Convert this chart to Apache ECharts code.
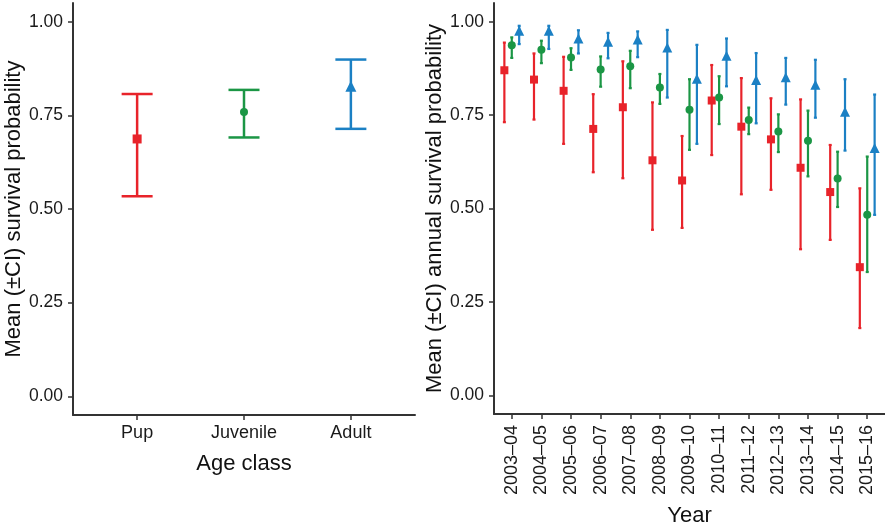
<!DOCTYPE html>
<html>
<head>
<meta charset="utf-8">
<script src="https://cdn.jsdelivr.net/npm/echarts@6/dist/echarts.min.js"></script>
<style>
  html, body { margin: 0; padding: 0; background: #fff; }
  #chart { width: 885px; height: 532px; }
</style>
</head>
<body>
<div id="chart"></div>
<script>
// age class panel
const ageClasses = ['Pup', 'Juvenile', 'Adult'];
const ageMean = [0.687, 0.759, 0.828];
const ageLower = [0.534, 0.691, 0.714];
const ageUpper = [0.807, 0.818, 0.899];

// yearly panel
const years = ['2003\u201304', '2004\u201305', '2005\u201306', '2006\u201307', '2007\u201308', '2008\u201309',
  '2009\u201310', '2010\u201311', '2011\u201312', '2012\u201313', '2013\u201314', '2014\u201315', '2015\u201316'];

const pupMean  = [0.870, 0.845, 0.815, 0.713, 0.771, 0.629, 0.575, 0.789, 0.719, 0.685, 0.609, 0.544, 0.343];
const pupLower = [0.731, 0.738, 0.673, 0.597, 0.581, 0.443, 0.448, 0.643, 0.538, 0.550, 0.391, 0.416, 0.180];
const pupUpper = [0.944, 0.915, 0.906, 0.806, 0.894, 0.784, 0.694, 0.884, 0.849, 0.795, 0.792, 0.670, 0.554];

const juvMean  = [0.937, 0.925, 0.904, 0.872, 0.881, 0.824, 0.764, 0.797, 0.737, 0.706, 0.681, 0.580, 0.483];
const juvLower = [0.903, 0.889, 0.871, 0.826, 0.822, 0.780, 0.657, 0.726, 0.699, 0.651, 0.586, 0.504, 0.330];
const juvUpper = [0.958, 0.949, 0.929, 0.907, 0.922, 0.860, 0.846, 0.854, 0.770, 0.752, 0.762, 0.652, 0.639];

const adultMean  = [0.976, 0.976, 0.955, 0.946, 0.952, 0.931, 0.847, 0.909, 0.844, 0.851, 0.831, 0.759, 0.662];
const adultLower = [0.940, 0.927, 0.915, 0.902, 0.905, 0.797, 0.673, 0.827, 0.728, 0.778, 0.743, 0.655, 0.483];
const adultUpper = [0.989, 0.989, 0.977, 0.970, 0.974, 0.978, 0.938, 0.955, 0.916, 0.903, 0.898, 0.846, 0.805];

const yTicks = [0, 0.25, 0.5, 0.75, 1];

const RED = '#E8232A', GREEN = '#1B9645', BLUE = '#1B80C4';
const FONT = '"Liberation Sans", Arial, Helvetica, sans-serif';
const AXIS_COL = '#333333';

function errorBars(xIdx, yIdx, xs, lo, hi, color, capW, lineW) {
  return {
    type: 'custom',
    xAxisIndex: xIdx, yAxisIndex: yIdx,
    data: xs.map((x, i) => [x, lo[i], hi[i]]),
    renderItem: function (params, api) {
      const top = api.coord([api.value(0), api.value(2)]);
      const bot = api.coord([api.value(0), api.value(1)]);
      const st = { stroke: color, lineWidth: lineW };
      return {
        type: 'group',
        children: [
          { type: 'line', shape: { x1: top[0], y1: top[1], x2: bot[0], y2: bot[1] }, style: st },
          { type: 'line', shape: { x1: top[0] - capW / 2, y1: top[1], x2: top[0] + capW / 2, y2: top[1] }, style: st },
          { type: 'line', shape: { x1: bot[0] - capW / 2, y1: bot[1], x2: bot[0] + capW / 2, y2: bot[1] }, style: st }
        ]
      };
    },
    z: 2
  };
}

function points(xIdx, yIdx, xs, ys, color, symbol, size) {
  return {
    type: 'scatter',
    xAxisIndex: xIdx, yAxisIndex: yIdx,
    data: xs.map((x, i) => [x, ys[i]]),
    symbol: symbol, symbolSize: size,
    itemStyle: { color: color, opacity: 1 },
    z: 3
  };
}

function xAxisFor(gridIdx, cats, name, nameGap, rotate, margin, labelSize) {
  const idx = cats.map((c, i) => i);
  return {
    type: 'value', gridIndex: gridIdx,
    min: -0.6, max: cats.length - 0.4,
    name: name, nameLocation: 'middle', nameGap: nameGap,
    nameTextStyle: { fontFamily: FONT, fontSize: 22, color: '#111' },
    axisLine: { show: true, onZero: false, lineStyle: { color: AXIS_COL, width: 2 } },
    axisTick: { show: true, length: 5, customValues: idx, lineStyle: { color: AXIS_COL, width: 1.5 } },
    axisLabel: {
      customValues: idx, rotate: rotate, margin: margin,
      fontFamily: FONT, fontSize: labelSize, color: '#1a1a1a',
      formatter: v => cats[Math.round(v)]
    },
    splitLine: { show: false }
  };
}

function yAxisFor(gridIdx, name, nameGap) {
  return {
    type: 'value', gridIndex: gridIdx,
    min: -0.05, max: 1.05,
    name: name, nameLocation: 'middle', nameGap: nameGap, nameRotate: 90,
    nameTextStyle: { fontFamily: FONT, fontSize: 22, color: '#111' },
    axisLine: { show: true, onZero: false, lineStyle: { color: AXIS_COL, width: 2 } },
    axisTick: { show: true, length: 5, customValues: yTicks, lineStyle: { color: AXIS_COL, width: 1.5 } },
    axisLabel: {
      customValues: yTicks, margin: 10,
      fontFamily: FONT, fontSize: 17.5, color: '#1a1a1a',
      formatter: v => v.toFixed(2)
    },
    splitLine: { show: false }
  };
}

const ageX = ageClasses.map((c, i) => i);
const dodge = 0.25;
const yrX = years.map((y, i) => i);

let chart = echarts.init(document.getElementById('chart'), null, { renderer: 'canvas' });
chart.setOption({
  backgroundColor: '#ffffff',
  animation: false,
  grid: [
    { left: 73, top: 3, width: 342, height: 412 },
    { left: 494, top: 3, width: 391, height: 412 }
  ],
  xAxis: [
    xAxisFor(0, ageClasses, 'Age class', 38, 0, 9, 18),
    xAxisFor(1, years, 'Year', 91, 90, 11, 18)
  ],
  yAxis: [
    yAxisFor(0, 'Mean (\u00b1CI) survival probability', 48),
    yAxisFor(1, 'Mean (\u00b1CI) annual survival probability', 48)
  ],
  series: [
    errorBars(0, 0, [ageX[0]], [ageLower[0]], [ageUpper[0]], RED, 31, 2.5),
    errorBars(0, 0, [ageX[1]], [ageLower[1]], [ageUpper[1]], GREEN, 31, 2.5),
    errorBars(0, 0, [ageX[2]], [ageLower[2]], [ageUpper[2]], BLUE, 31, 2.5),
    points(0, 0, [ageX[0]], [ageMean[0]], RED, 'rect', 9),
    points(0, 0, [ageX[1]], [ageMean[1]], GREEN, 'circle', 8),
    points(0, 0, [ageX[2]], [ageMean[2]], BLUE, 'triangle', 11),

    errorBars(1, 1, yrX.map(x => x - dodge), pupLower, pupUpper, RED, 3, 2.2),
    errorBars(1, 1, yrX, juvLower, juvUpper, GREEN, 3, 2.2),
    errorBars(1, 1, yrX.map(x => x + dodge), adultLower, adultUpper, BLUE, 3, 2.2),
    points(1, 1, yrX.map(x => x - dodge), pupMean, RED, 'rect', 8),
    points(1, 1, yrX, juvMean, GREEN, 'circle', 8),
    points(1, 1, yrX.map(x => x + dodge), adultMean, BLUE, 'triangle', 10)
  ]
});
</script>
</body>
</html>
